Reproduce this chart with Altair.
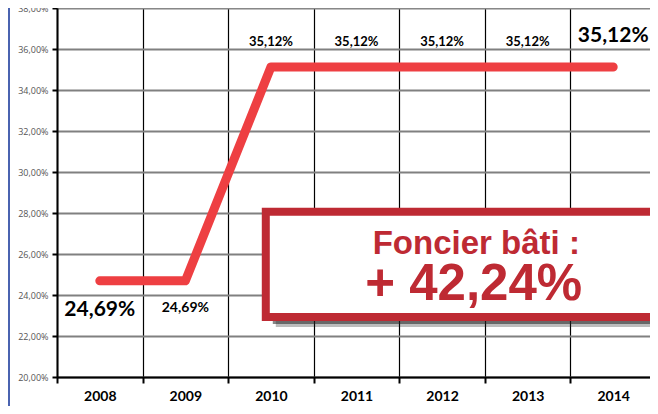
import altair as alt
import pandas as pd

# ---- data ----
years = [2008, 2009, 2010, 2011, 2012, 2013, 2014]
rates = [24.69, 24.69, 35.12, 35.12, 35.12, 35.12, 35.12]
labels = ["24,69%", "24,69%", "35,12%", "35,12%", "35,12%", "35,12%", "35,12%"]
label_kind = ["big_below", "small_below", "small_above", "small_above",
              "small_above", "small_above", "big_above"]
y_ticks = [20, 22, 24, 26, 28, 30, 32, 34, 36, 38]
grid_years = [2007.5, 2008.5, 2009.5, 2010.5, 2011.5, 2012.5, 2013.5, 2014.5]
box_title = "Foncier bâti :"
box_value = "+ 42,24%"
# annotation box extent (in data units)
box_x = [2009.94, 2015.3]
box_y = [22.93, 28.06]
title_pos = [2012.40, 26.50]
value_pos = [2012.37, 24.50]

df = pd.DataFrame({"year": years, "rate": rates, "label": labels, "kind": label_kind})
box_df = pd.DataFrame({"x1": [box_x[0]], "x2": [box_x[1]], "y1": [box_y[0]], "y2": [box_y[1]]})
txt_df = pd.DataFrame({"x": [title_pos[0], value_pos[0]], "y": [title_pos[1], value_pos[1]],
                       "t": [box_title, box_value], "k": ["title", "value"]})

RED_LINE = "#EE3F42"
RED_BOX = "#BE2A33"
FONT = "Lato"

x_scale = alt.Scale(domain=[2007.5, 2014.43], nice=False, zero=False)
y_scale = alt.Scale(domain=[20, 38], nice=False, zero=False)

base = alt.Chart(df)

line = base.mark_line(color=RED_LINE, strokeWidth=9, strokeCap="round",
                      strokeJoin="round").encode(
    x=alt.X("year:Q", scale=x_scale,
            axis=alt.Axis(values=grid_years, labels=False, grid=True, gridColor="black",
                          gridWidth=1.2, gridOpacity=1, ticks=True, tickSize=6, tickWidth=2,
                          tickColor="black", domain=True, domainColor="black",
                          domainWidth=2, title=None, orient="bottom")),
    y=alt.Y("rate:Q", scale=y_scale,
            axis=alt.Axis(values=y_ticks,
                          labelExpr="replace(format(datum.value, '.2f'), '.', ',') + '%'",
                          grid=True, gridColor="#808080", gridWidth=2, gridOpacity=1,
                          tickSize=5, tickWidth=2, tickColor="black",
                          domainColor="black", domainWidth=2,
                          labelFontSize=9, labelColor="#555555", labelFont="Open Sans",
                          labelPadding=4, title=None)),
)

year_axis = base.mark_point(opacity=0).encode(
    x=alt.X("year:Q", scale=x_scale,
            axis=alt.Axis(values=years, format="d", grid=False, ticks=False, domain=False,
                          labelFontSize=14, labelFont=FONT, labelFontWeight="bold",
                          labelColor="black", labelPadding=12, title=None, orient="bottom")),
)

def lbl(kind, size, dy):
    return base.transform_filter(alt.datum.kind == kind).mark_text(
        font=FONT, fontWeight="bold", fontSize=size, dy=dy, color="black",
        baseline="middle", align="center").encode(
        x=alt.X("year:Q", scale=x_scale), y=alt.Y("rate:Q", scale=y_scale), text="label:N")

labels_layers = [lbl("big_below", 21, 29), lbl("small_below", 14, 27),
                 lbl("small_above", 13, -25), lbl("big_above", 21, -31)]

box_base = alt.Chart(box_df).encode(
    x=alt.X("x1:Q", scale=x_scale), x2="x2:Q",
    y=alt.Y("y1:Q", scale=y_scale), y2="y2:Q")
shadow1 = box_base.mark_rect(fill="#222222", opacity=0.3, xOffset=10, yOffset=10)
shadow2 = box_base.mark_rect(fill="#222222", opacity=0.55, xOffset=7, yOffset=7)
box = box_base.mark_rect(fill="white", stroke=RED_BOX, strokeWidth=8)

title_txt = alt.Chart(txt_df).transform_filter(alt.datum.k == "title").mark_text(
    font="Liberation Sans", fontWeight="bold", fontSize=33, color=RED_BOX,
    align="center", baseline="middle").encode(
    x=alt.X("x:Q", scale=x_scale), y=alt.Y("y:Q", scale=y_scale), text="t:N")
value_txt = alt.Chart(txt_df).transform_filter(alt.datum.k == "value").mark_text(
    font="Liberation Sans", fontWeight="bold", fontSize=51, color=RED_BOX,
    align="center", baseline="middle").encode(
    x=alt.X("x:Q", scale=x_scale), y=alt.Y("y:Q", scale=y_scale), text="t:N")

edge = alt.Chart(df).mark_rule(color="#4A63B0", strokeWidth=2).encode(
    x=alt.value(-48), y=alt.value(-20), y2=alt.value(420))

chart = alt.layer(
    line, year_axis, *labels_layers, shadow1, shadow2, box, title_txt, value_txt, edge
).resolve_axis(x="independent").properties(
    width=593, height=369,
    autosize=alt.AutoSizeParams(type="none"),
    padding={"left": 49, "top": 0, "right": 0, "bottom": 29},
    background="white",
).configure_view(stroke="black", strokeWidth=1)

chart.save("out.html", embed_options={"renderer": "svg", "actions": False})
